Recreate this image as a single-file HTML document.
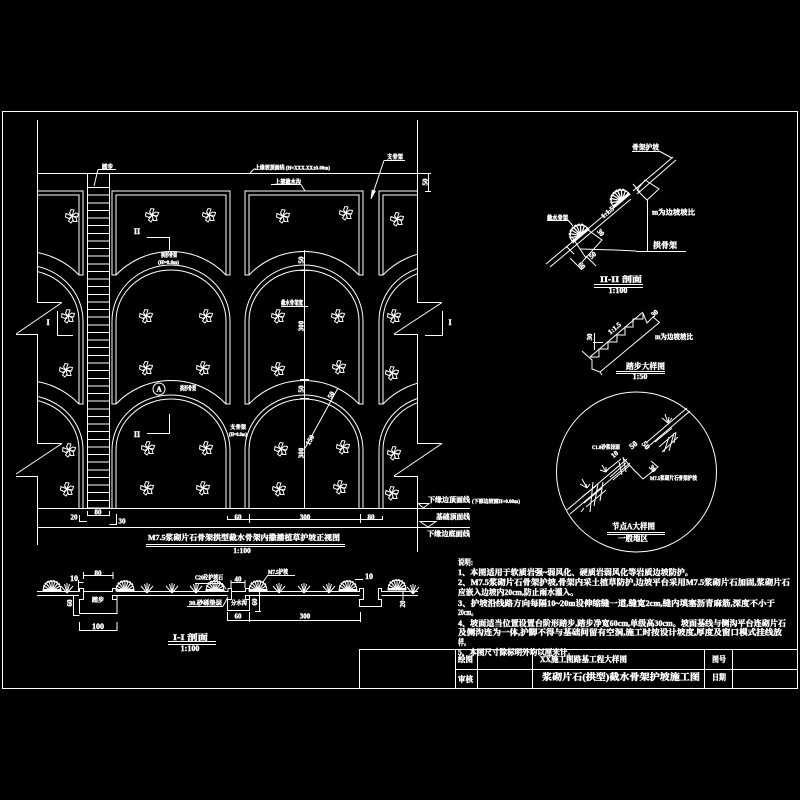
<!DOCTYPE html>
<html lang="zh">
<head>
<meta charset="utf-8">
<title>浆砌片石(拱型)截水骨架护坡施工图</title>
<style>
html,body{margin:0;padding:0;background:#000;width:800px;height:800px;overflow:hidden}
svg{display:block}
.l{fill:none;stroke:#fff;stroke-width:1;shape-rendering:crispEdges}
.d{fill:none;stroke:#fff;stroke-width:1}
text{fill:#fff;stroke:#fff;stroke-width:.4;font-family:"Liberation Serif","Noto Serif CJK SC","Noto Sans CJK SC",serif;font-weight:bold}
</style>
</head>
<body>
<svg width="800" height="800" viewBox="0 0 800 800" xmlns="http://www.w3.org/2000/svg">
<defs>
<clipPath id="pl"><rect x="37" y="120" width="380" height="400"/></clipPath>
<g id="col">
  <path class="d" d="M-59 275V191H59V275H55V195H-55V275Z"/>
  <path class="d" d="M-55 275A76 76 0 0 1 55 275"/>
  <path class="d" d="M-59 404V321A59 56 0 0 1 59 321V404H55V321A55 51 0 0 0 -55 321V404Z"/>
  <path class="d" d="M-55 404A76 76 0 0 1 55 404"/>
  <path class="d" d="M-59 508V450A59 55 0 0 1 59 450V508"/>
  <path class="d" d="M-55 508V450A55 51 0 0 1 55 450V508"/>
</g>
<g id="st">
  <path class="d" d="M0 0L-2.5-3-1-6.5 2-6ZM0 0L3.5-3 6.5-2.5 5.5 1ZM0 0L4 1.5 5 5.5 1.5 5.5ZM0 0L1 4-1 7-3.5 5ZM0 0L-3 2.5-6.5 1-6-2.5Z"/>
</g>
<g id="dm">
  <path d="M-9 0A9 10 0 0 1 9 0Z" fill="none" stroke="#fff"/>
  <path d="M0 0V-10M0 0L-3-9.5M0 0L3-9.5M0 0L-6-8M0 0L6-8M0 0L-8-5M0 0L8-5M0 0L-9-2M0 0L9-2" stroke="#fff" stroke-width="1.1" fill="none"/>
  <path d="M-9-1H9" stroke="#fff" stroke-width="2"/>
  <path d="M-8-4A8 6 0 0 1 8-4" stroke="#fff" stroke-width="1.8" fill="none" stroke-dasharray="2 1"/>
</g>
<g id="tf"><path class="d" d="M0 0L-6-7M0 0L-2.5-9M0 0V-10M0 0L2.5-9M0 0L6-7"/></g>
</defs>
<rect width="800" height="800" fill="#000"/>

<!-- frame -->
<path class="l" d="M2.5 111.5H797.5V688.5H2.5Z"/>
<path class="l" d="M359.5 688.5V649.5H797.5M455.5 649.5V688.5M477.5 649.5V688.5M532.5 649.5V688.5M704.5 649.5V688.5M732.5 649.5V688.5M455.5 669.5H797.5"/>

<!-- main plan -->
<g clip-path="url(#pl)">
  <use href="#col" x="24"/>
  <use href="#col" x="171"/>
  <use href="#col" x="304"/>
  <use href="#col" x="438"/>
</g>
<path class="l" d="M87.5 173V508M109.5 173V508"/>
<line x1="98.5" y1="187" x2="98.5" y2="508" stroke="#fff" stroke-width="22" stroke-dasharray="1 6.63" shape-rendering="crispEdges"/>
<path class="l" d="M37.5 120V302.5H62"/>
<path class="d" d="M62 302.5L16 334"/>
<path class="l" d="M16 334.5H37.5V443.5H62"/>
<path class="d" d="M62 443.5L16 474"/>
<path class="l" d="M16 476.5H37.5V545"/>
<path class="l" d="M417.5 120V302.5H442"/>
<path class="d" d="M442 302.5L394 334"/>
<path class="l" d="M394 334.5H417.5V443.5H442"/>
<path class="d" d="M442 443.5L394 476"/>
<path class="l" d="M394 476.5H417.5V552"/>
<path class="l" d="M37 173.5H430M37 508.5H470M37 527.5H470"/>
<path class="d" d="M418 503.5H429L423.5 508ZM420 521.5H436L428 527Z"/>

<!-- stars -->
<g fill="none">
<use href="#st" x="72" y="216"/><use href="#st" x="152" y="215"/><use href="#st" x="209" y="215"/><use href="#st" x="283" y="216"/><use href="#st" x="346" y="213"/><use href="#st" x="397" y="219"/>
<use href="#st" x="68" y="316"/><use href="#st" x="146" y="316"/><use href="#st" x="206" y="316"/><use href="#st" x="278" y="316"/><use href="#st" x="338" y="316"/><use href="#st" x="394" y="316"/>
<use href="#st" x="66" y="370"/><use href="#st" x="146" y="368"/><use href="#st" x="203" y="368"/><use href="#st" x="278" y="369"/><use href="#st" x="339" y="367"/><use href="#st" x="392" y="373"/>
<use href="#st" x="69" y="450"/><use href="#st" x="148" y="448"/><use href="#st" x="206" y="448"/><use href="#st" x="281" y="449"/><use href="#st" x="343" y="447"/><use href="#st" x="394" y="453"/>
<use href="#st" x="67" y="489"/><use href="#st" x="147" y="488"/><use href="#st" x="203" y="488"/><use href="#st" x="279" y="489"/><use href="#st" x="340" y="487"/><use href="#st" x="392" y="493"/>
</g>

<!-- plan leaders / dims -->
<path class="l" d="M98 169.5H116M147 237.5H169.5V250M147 433.5H169.5V414M57.5 311V335.5H73M442.5 311V335.5H425M271 184.5H301M384 160.5H405M281 306.5H308M304.5 250V508M300 251.5H309M300 270.5H309M300 379.5H309M300 398.5H309M428.5 173V191M425 173.5H431M425 191.5H431"/>
<path class="d" d="M98 169.5L94 186M250 173L254 169H256M301 184.5L305 191M384 160.5L371 199M304 450L338 388"/>
<path d="M371 199L372 190L375.5 191Z" fill="#fff" stroke="#fff" stroke-width=".6"/>
<path class="l" d="M79.5 515V521.5H87M87.5 511V515.5H109.5V511M109.5 524.5H116.5V514M227.5 516V519.5H382.5V516M249.5 514V523M360.5 514V523"/>
<circle class="d" cx="159" cy="389" r="6"/>
<g>
<text x="102" y="169" font-size="6" textLength="11" lengthAdjust="spacingAndGlyphs">踏步</text>
<text x="255" y="169.5" font-size="5.5" textLength="75" lengthAdjust="spacingAndGlyphs">上缘坡顶面线 (H=XXX.XX±0.00m)</text>
<text x="275" y="184" font-size="6" textLength="26" lengthAdjust="spacingAndGlyphs">上部截水沟</text>
<text x="387" y="159" font-size="6" textLength="16" lengthAdjust="spacingAndGlyphs">支骨架</text>
<text x="137" y="234" font-size="8" text-anchor="middle">II</text>
<text x="137" y="437" font-size="8" text-anchor="middle">II</text>
<text x="48" y="325" font-size="8" text-anchor="middle">I</text>
<text x="450" y="325" font-size="8" text-anchor="middle">I</text>
<text x="161" y="257" font-size="5.5" textLength="16" lengthAdjust="spacingAndGlyphs">拱形骨架</text>
<text x="158" y="264" font-size="5" textLength="21" lengthAdjust="spacingAndGlyphs">(H=0.6m)</text>
<text x="281" y="305" font-size="6" textLength="22" lengthAdjust="spacingAndGlyphs">截水骨架宽</text>
<text x="159" y="391.5" font-size="7" text-anchor="middle" stroke-width="0">A</text>
<text x="180" y="390.5" font-size="6" textLength="16" lengthAdjust="spacingAndGlyphs">拱形骨架</text>
<text x="230" y="429" font-size="5.5" textLength="16" lengthAdjust="spacingAndGlyphs">支骨架</text>
<text x="229" y="436" font-size="5" textLength="18" lengthAdjust="spacingAndGlyphs">(H=0.6m)</text>
<text x="74" y="519.5" font-size="7" text-anchor="middle">20</text>
<text x="98" y="514.5" font-size="7" text-anchor="middle">80</text>
<text x="122" y="523.5" font-size="7" text-anchor="middle">30</text>
<text x="238" y="519.5" font-size="7" text-anchor="middle">60</text>
<text x="305" y="519.5" font-size="7" text-anchor="middle">300</text>
<text x="371" y="519.5" font-size="7" text-anchor="middle">80</text>
<text transform="translate(303.5,260) rotate(-90)" font-size="7" text-anchor="middle">50</text>
<text transform="translate(303.5,326) rotate(-90)" font-size="7" text-anchor="middle">300</text>
<text transform="translate(303.5,389) rotate(-90)" font-size="7" text-anchor="middle">50</text>
<text transform="translate(303.5,453) rotate(-90)" font-size="7" text-anchor="middle">300</text>
<text transform="translate(312,441) rotate(-62)" font-size="7" text-anchor="middle">150</text>
<text transform="translate(333,396) rotate(-62)" font-size="7" text-anchor="middle">50</text>
<text transform="translate(427.5,182) rotate(-90)" font-size="7" text-anchor="middle">50</text>
<text x="428" y="502" font-size="7" textLength="42" lengthAdjust="spacingAndGlyphs">下缘边顶面线</text>
<text x="472" y="503" font-size="5" textLength="48" lengthAdjust="spacingAndGlyphs">(下部边坡面H+0.00m)</text>
<text x="436" y="519" font-size="7" textLength="34" lengthAdjust="spacingAndGlyphs">基础顶面线</text>
<text x="427" y="536" font-size="7" textLength="43" lengthAdjust="spacingAndGlyphs">下缘边底面线</text>
<text x="148" y="540" font-size="7.5" textLength="192" lengthAdjust="spacingAndGlyphs">M7.5浆砌片石骨架拱型截水骨架内撒播植草护坡正视图</text>
<text x="242" y="553" font-size="7.5" text-anchor="middle">1:100</text>
</g>
<path class="l" d="M146 544.5H345M146 546.5H345"/>

<!-- II-II section -->
<path class="d" d="M546 264L627 196M633 191L673 157M550 267L631 199M637 194L676 160"/>
<path class="d" d="M637 190L645 180L659 189L647 200ZM633 184L640 192"/>
<path class="d" d="M572 237L586 258M588 230L602 240L582 262M566 246L574 254M570 258L582 270M586 256L596 266"/>
<path class="l" d="M647.5 200V251.5M636 251.5H686M632 151.5H659M547 220.5H568"/>
<path class="d" d="M580 249L615 250L636 251M659 151L672 158M568 220L573 226"/>
<use href="#dm" transform="translate(622,201) rotate(-40) scale(1.15)"/>
<use href="#dm" transform="translate(581,236) rotate(-40) scale(1.15)"/>
<text x="632" y="149.5" font-size="7" textLength="27" lengthAdjust="spacingAndGlyphs">骨架护坡</text>
<text x="652" y="214.5" font-size="7" textLength="43" lengthAdjust="spacingAndGlyphs">m为边坡坡比</text>
<text x="653" y="248" font-size="8" textLength="24" lengthAdjust="spacingAndGlyphs">拱骨架</text>
<text x="547" y="220" font-size="6" textLength="21" lengthAdjust="spacingAndGlyphs">截水骨架</text>
<text transform="translate(609,214) rotate(-40)" font-size="7" text-anchor="middle">1:1.5</text>
<text transform="translate(580,267) rotate(50)" font-size="7" text-anchor="middle">60</text>
<text transform="translate(594,257) rotate(-40)" font-size="7" text-anchor="middle">50</text>
<text transform="translate(599,234) rotate(50)" font-size="7" text-anchor="middle">30</text>
<text x="600" y="282" font-size="8" textLength="42" lengthAdjust="spacingAndGlyphs">II-II 剖面</text>
<path class="l" d="M594 284.5H643M594 287.5H643"/>
<text x="618" y="293" font-size="8" text-anchor="middle">1:100</text>

<!-- stair detail -->
<path class="d" d="M590 357H599V349H608V342H617V335H625V327H633V319H643V313"/>
<path class="d" d="M590 357L643 312M600 372L660 322M582 351L592 360V369L600 372L602 375M643 313L647 323L653 317L659 322"/>
<path class="l" d="M594.5 333V350M593 342.5H603"/>
<text transform="translate(592,337) rotate(-90)" font-size="7" text-anchor="middle">30</text>
<text transform="translate(616,330) rotate(-40)" font-size="7" text-anchor="middle">1:1.5</text>
<text transform="translate(656,315) rotate(-40)" font-size="7" text-anchor="middle">30</text>
<text x="655" y="339" font-size="7" textLength="38" lengthAdjust="spacingAndGlyphs">m为边坡坡比</text>
<text x="626" y="369" font-size="8" textLength="39" lengthAdjust="spacingAndGlyphs">踏步大样图</text>
<path class="l" d="M616 371.5H665M616 373.5H665"/>
<text x="640" y="379" font-size="8" text-anchor="middle">1:50</text>

<!-- node A detail -->
<circle class="d" cx="636.5" cy="472" r="80"/>
<path class="d" d="M567 510L627 459M647 442L687 408M570 514L630 463M650 445L690 411"/>
<path class="d" d="M623 458L634 470L643 479L658 467L651 461"/>
<path class="d" d="M582 497L596 486M584 503L602 488M586 507L606 490M593 482L590 512M584 508L581 512M598 484L594 506M603 482L600 501M606 471L621 459M610 477L626 463M613 480L630 465M626 472L623 457M622 475L619 462M655 442L672 428M659 447L675 433M662 452L678 437M664 452L669 437M669 451L674 433M674 443L676 432"/>
<path class="d" d="M587 488L580 484M587 488L582 479M587 488L586 484M587 488L590 484M606 472L600 470M606 472L602 465M606 472L606 467M606 472L609 468M668 423L662 418M668 423L665 414M668 423L669 417M668 423L672 418"/>
<text x="592" y="449" font-size="5.5" textLength="28" lengthAdjust="spacingAndGlyphs">C1.0砂浆抹面</text>
<text x="650" y="480" font-size="5.5" textLength="47" lengthAdjust="spacingAndGlyphs">M7.5浆砌片石骨架护坡</text>
<text transform="translate(616,456) rotate(-40)" font-size="7" text-anchor="middle">10</text>
<text transform="translate(635,447) rotate(-40)" font-size="8" text-anchor="middle">50</text>
<text transform="translate(644,447) rotate(50)" font-size="8" text-anchor="middle">50</text>
<text transform="translate(651,470) rotate(50)" font-size="7" text-anchor="middle">30</text>
<text x="612" y="529" font-size="8" textLength="43" lengthAdjust="spacingAndGlyphs">节点A大样图</text>
<path class="l" d="M607 532.5H665M607 534.5H665"/>
<text x="618" y="541" font-size="8" textLength="30" lengthAdjust="spacingAndGlyphs">一般地区</text>

<!-- I-I section -->
<path class="l" d="M37 591.5H79.5V588.5H83.5V599.5H79.5V613.5H117V595.5H112.5V599.5H117M83.5 591.5H112.5V588.5H117V591.5H228V588.5H231.5V599.5H227.5V610.5H249.5V595.5H245.5V599.5H249.5M231.5 591.5H245.5V588.5H249.5V591.5H359.5V588.5H363.5V599.5H359.5V606.5H381.5V599.5H378.5V588.5H381.5V591.5H418M37 595.5H73.5V615.5H79.5M73.5 595.5H79M117 595.5H227.5M249.5 595.5H359.5M381.5 595.5H418"/>
<path class="l" d="M83 575.5H113M83.5 572V579M113 572V579M78.5 582.5H83.5M78.5 580V591M79.5 622V630.5H117V622M231 582.5H245M231 580V588M245 580V588M227.5 612V621M227.5 620.5H360.5M249.5 612V622M360.5 612V622M259.5 591V611M255 611.5H261M268 575.5H295M195 583.5H222M187 606.5H223M355 579.5H363M403 591V600"/>
<path class="d" d="M268 575L263 582M223 606L228 597M222 583L226 589"/>
<use href="#dm" x="52" y="591"/><use href="#dm" x="125" y="591"/><use href="#dm" x="215" y="591"/><use href="#dm" x="258" y="591"/><use href="#dm" x="348" y="591"/><use href="#dm" x="397" y="590"/>
<use href="#tf" x="67" y="593"/><use href="#tf" x="147" y="593"/><use href="#tf" x="172" y="593"/><use href="#tf" x="196" y="593"/><use href="#tf" x="279" y="593"/><use href="#tf" x="304" y="593"/><use href="#tf" x="329" y="593"/><use href="#tf" x="413" y="594"/>
<g>
<text x="98" y="575.5" font-size="7" text-anchor="middle">80</text>
<text x="74" y="581" font-size="8" text-anchor="middle">10</text>
<text transform="translate(72,603) rotate(-90)" font-size="7" text-anchor="middle">60</text>
<text x="98" y="629" font-size="8" text-anchor="middle">100</text>
<text x="98" y="602" font-size="6" text-anchor="middle">踏步</text>
<text x="195" y="579.5" font-size="6" textLength="28" lengthAdjust="spacingAndGlyphs">C20砼护坡石</text>
<text x="189" y="605" font-size="6" textLength="33" lengthAdjust="spacingAndGlyphs">30.砂砾垫层</text>
<text x="231" y="605" font-size="6" textLength="16" lengthAdjust="spacingAndGlyphs">分水沟</text>
<text x="238" y="618.5" font-size="7" text-anchor="middle">60</text>
<text x="305" y="618.5" font-size="7" text-anchor="middle">300</text>
<text x="238" y="581.5" font-size="7" text-anchor="middle">40</text>
<text x="268" y="574" font-size="6" textLength="20" lengthAdjust="spacingAndGlyphs">M7.5护坡</text>
<text x="369" y="579" font-size="8" text-anchor="middle">10</text>
<text transform="translate(257,602) rotate(-90)" font-size="7" text-anchor="middle">60</text>
<text transform="translate(405,604) rotate(-90)" font-size="7" text-anchor="middle">20</text>
<text x="173" y="640" font-size="8" textLength="35" lengthAdjust="spacingAndGlyphs">I-I 剖面</text>
<text x="190" y="651" font-size="8" text-anchor="middle">1:100</text>
</g>
<path class="l" d="M168 641.5H216M168 644.5H216"/>

<!-- notes -->
<g>
<text x="458" y="565" font-size="8" textLength="15" lengthAdjust="spacingAndGlyphs">说明:</text>
<text x="458" y="575" font-size="8" textLength="235" lengthAdjust="spacingAndGlyphs">1、本图适用于软质岩强~弱风化、硬质岩弱风化等岩质边坡防护。</text>
<text x="458" y="585" font-size="8" textLength="332" lengthAdjust="spacingAndGlyphs">2、M7.5浆砌片石骨架护坡,骨架内采土植草防护,边坡平台采用M7.5浆砌片石加固,浆砌片石</text>
<text x="458" y="595" font-size="8" textLength="120" lengthAdjust="spacingAndGlyphs">应嵌入边坡内20cm,防止雨水灌入。</text>
<text x="458" y="606" font-size="8" textLength="317" lengthAdjust="spacingAndGlyphs">3、护坡沿线路方向每隔10~20m设伸缩缝一道,缝宽2cm,缝内填塞沥青麻筋,深度不小于</text>
<text x="458" y="615" font-size="8" textLength="19" lengthAdjust="spacingAndGlyphs">20cm。</text>
<text x="458" y="626" font-size="8" textLength="328" lengthAdjust="spacingAndGlyphs">4、坡面适当位置设置台阶形踏步,踏步净宽60cm,单级高30cm。坡面基线与侧沟平台连砌片石</text>
<text x="458" y="635" font-size="8" textLength="324" lengthAdjust="spacingAndGlyphs">及侧沟连为一体,护脚不得与基础间留有空洞,施工时按设计坡度,厚度及窗口模式挂线放</text>
<text x="458" y="645" font-size="8" textLength="12" lengthAdjust="spacingAndGlyphs">样。</text>
<text x="458" y="655" font-size="8" textLength="117" lengthAdjust="spacingAndGlyphs">5、本图尺寸除标明外均以厘米计。</text>
</g>

<!-- title block -->
<text x="458" y="662" font-size="8" textLength="15" lengthAdjust="spacingAndGlyphs">绘图</text>
<text x="458" y="682" font-size="8" textLength="15" lengthAdjust="spacingAndGlyphs">审核</text>
<text x="540" y="662" font-size="8" textLength="87" lengthAdjust="spacingAndGlyphs">XX施工图路基工程大样图</text>
<text x="542" y="680" font-size="9" textLength="158" lengthAdjust="spacingAndGlyphs">浆砌片石(拱型)截水骨架护坡施工图</text>
<text x="712" y="662" font-size="8" textLength="14" lengthAdjust="spacingAndGlyphs">图号</text>
<text x="712" y="680" font-size="8" textLength="14" lengthAdjust="spacingAndGlyphs">日期</text>
</svg>
</body>
</html>
